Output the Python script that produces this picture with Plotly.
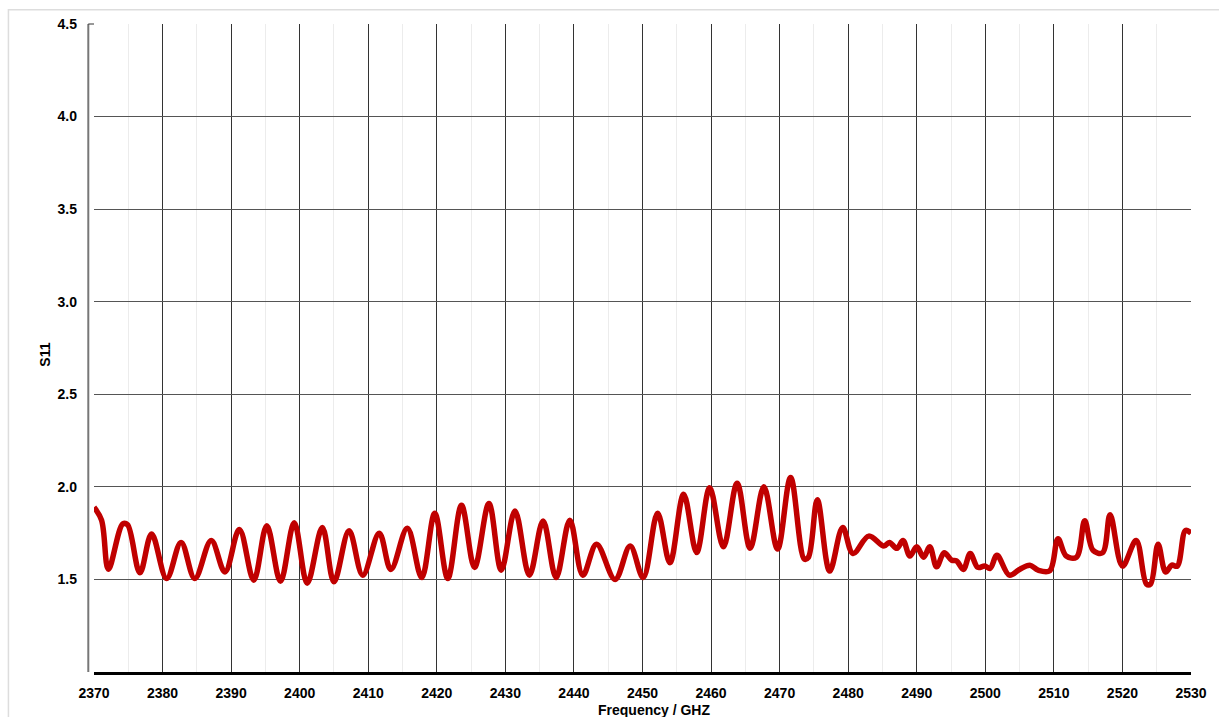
import plotly.graph_objects as go

freq = [2370.0, 2371.1, 2372.1, 2374.2, 2374.9, 2376.7, 2378.4, 2380.6, 2382.7, 2384.7,
        2387.1, 2389.1, 2391.2, 2393.3, 2395.2, 2397.2, 2399.2, 2401.1, 2403.3, 2405.0,
        2407.2, 2409.2, 2411.6, 2413.3, 2415.7, 2417.8, 2419.7, 2421.6, 2423.6, 2425.5,
        2427.6, 2429.4, 2431.4, 2433.5, 2435.5, 2437.4, 2439.4, 2441.3, 2443.3, 2446.0,
        2448.2, 2450.1, 2452.2, 2454.0, 2456.0, 2457.9, 2459.8, 2461.8, 2463.8, 2465.7,
        2467.7, 2469.7, 2471.6, 2473.6, 2474.2, 2475.5, 2477.3, 2479.2, 2480.7, 2483.0,
        2485.2, 2486.0, 2487.1, 2488.0, 2489.0, 2490.0, 2491.0, 2491.9, 2492.9, 2494.0,
        2495.1, 2495.8, 2496.8, 2497.8, 2498.9, 2499.9, 2500.7, 2501.7, 2503.5, 2505.0,
        2506.5, 2507.7, 2509.4, 2510.6, 2511.8, 2513.3, 2514.5, 2515.7, 2517.1, 2518.2,
        2520.0, 2522.0, 2523.5, 2524.1, 2525.2, 2526.3, 2527.2, 2528.0, 2529.2, 2530.0]

s11 = [1.89, 1.82, 1.555, 1.80, 1.795, 1.536, 1.745, 1.505, 1.70, 1.505,
       1.71, 1.54, 1.77, 1.496, 1.79, 1.49, 1.806, 1.48, 1.78, 1.487,
       1.763, 1.523, 1.75, 1.554, 1.776, 1.51, 1.857, 1.505, 1.90, 1.565,
       1.91, 1.55, 1.87, 1.523, 1.815, 1.51, 1.82, 1.523, 1.69, 1.50,
       1.68, 1.51, 1.857, 1.59, 1.96, 1.646, 1.995, 1.676, 2.02, 1.668,
       2.00, 1.664, 2.05, 1.61, 1.62, 1.93, 1.545, 1.78, 1.64, 1.734,
       1.68, 1.70, 1.668, 1.71, 1.626, 1.676, 1.62, 1.676, 1.568, 1.644,
       1.604, 1.60, 1.554, 1.64, 1.565, 1.572, 1.56, 1.63, 1.523, 1.554,
       1.577, 1.55, 1.547, 1.72, 1.626, 1.62, 1.817, 1.658, 1.644, 1.85,
       1.572, 1.71, 1.475, 1.475, 1.69, 1.54, 1.577, 1.572, 1.765, 1.75]

x_ticks = [2370, 2380, 2390, 2400, 2410, 2420, 2430, 2440, 2450, 2460, 2470,
           2480, 2490, 2500, 2510, 2520, 2530]
y_ticks = [1.5, 2.0, 2.5, 3.0, 3.5, 4.0, 4.5]
y_tick_text = ["1.5", "2.0", "2.5", "3.0", "3.5", "4.0", "4.5"]

FONT = "Liberation Sans, Arial, sans-serif"

fig = go.Figure()
fig.add_trace(go.Scatter(
    x=freq, y=s11, mode="lines",
    line=dict(color="#C00000", width=5.5, shape="spline", smoothing=1.0),
    showlegend=False, hoverinfo="x+y",
))

fig.update_layout(
    width=1219, height=717,
    margin=dict(l=93.5, r=21, t=24.3, b=45, pad=0),
    paper_bgcolor="white", plot_bgcolor="white",
    font=dict(family=FONT, size=14, color="black"),
    xaxis=dict(
        range=[2370, 2530], tickvals=x_ticks,
        ticktext=[f"<b>{v}</b>" for v in x_ticks],
        showgrid=True, gridcolor="#333333", gridwidth=1,
        minor=dict(dtick=5, tick0=2370, showgrid=True, gridcolor="#ececec", gridwidth=1),
        showline=True, linecolor="black", linewidth=3,
        ticks="", ticklabelstandoff=6, zeroline=False,
        tickfont=dict(family=FONT, size=14, color="black"),
    ),
    yaxis=dict(
        range=[1.0, 4.5], tickvals=y_ticks,
        ticktext=[f"<b>{t}</b>" for t in y_tick_text],
        showgrid=True, gridcolor="#555555", gridwidth=1,
        showline=False, ticks="", ticklabelstandoff=16, zeroline=False,
        tickfont=dict(family=FONT, size=14, color="black"),
    ),
    shapes=[
        dict(type="line", xref="paper", yref="paper", x0=-0.0052, x1=-0.0052, y0=0, y1=1.0,
             line=dict(color="#777777", width=2)),
        dict(type="line", xref="paper", yref="paper", x0=-0.0052, x1=0, y0=1.0, y1=1.0,
             line=dict(color="#333333", width=1)),
        dict(type="rect", xref="paper", yref="paper", x0=-0.078, x1=1.03, y0=-0.2, y1=1.022,
             line=dict(color="#dddddd", width=1.5), fillcolor="rgba(0,0,0,0)", layer="below"),
    ],
    annotations=[
        dict(text="<b>S11</b>", xref="paper", yref="paper", x=-0.0442, y=0.489,
             textangle=-90, showarrow=False, font=dict(family=FONT, size=14, color="black"),
             xanchor="center", yanchor="middle"),
        dict(text="<b>Frequency / GHZ</b>", xref="paper", yref="paper", x=0.5105, y=-0.058,
             showarrow=False, font=dict(family=FONT, size=14, color="black"),
             xanchor="center", yanchor="middle"),
    ],
)

fig.write_html(
    "out.html",
    config={"displayModeBar": False},
    post_script="document.body.style.margin='0px';document.body.style.overflow='hidden';",
)
